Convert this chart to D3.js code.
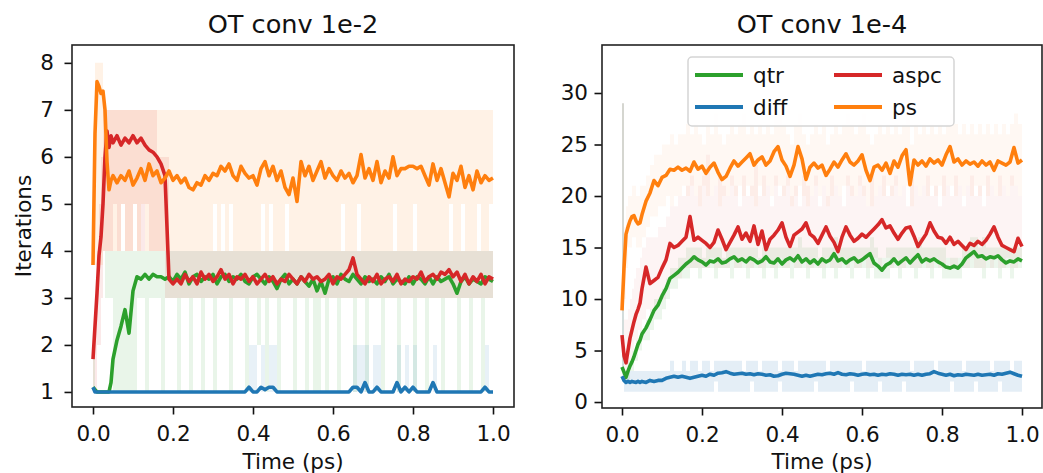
<!DOCTYPE html>
<html><head><meta charset="utf-8">
<script src="https://cdn.jsdelivr.net/npm/d3@7"></script>
<style>
body{margin:0;background:#fff}
svg{display:block}
text{font-family:"DejaVu Sans",sans-serif;fill:#111}
</style>
</head><body>
<svg id="c" width="1043" height="473"></svg>
<script>
// ---------- data ----------
const time = [0,0.005,0.01,0.015,0.02,0.025,0.03,0.035,0.04,0.045,0.05,
0.06,0.07,0.08,0.09,0.10,0.11,0.12,0.13,0.14,0.15,
0.16,0.17,0.18,0.19,0.20,0.21,0.22,0.23,0.24,0.25,
0.26,0.27,0.28,0.29,0.30,0.31,0.32,0.33,0.34,0.35,
0.36,0.37,0.38,0.39,0.40,0.41,0.42,0.43,0.44,0.45,
0.46,0.47,0.48,0.49,0.50,0.51,0.52,0.53,0.54,0.55,
0.56,0.57,0.58,0.59,0.60,0.61,0.62,0.63,0.64,0.65,
0.66,0.67,0.68,0.69,0.70,0.71,0.72,0.73,0.74,0.75,
0.76,0.77,0.78,0.79,0.80,0.81,0.82,0.83,0.84,0.85,
0.86,0.87,0.88,0.89,0.90,0.91,0.92,0.93,0.94,0.95,
0.96,0.97,0.98,0.99,1.00];

const seriesNames = ["qtr","diff","aspc","ps"];
const seriesColors = ["#2ca02c","#1f77b4","#d62728","#ff7f0e"];
const panelTitles = ["OT conv 1e-2","OT conv 1e-4"];
const xTickValues = [0,0.2,0.4,0.6,0.8,1.0];
const yTicksLeft = [1,2,3,4,5,6,7,8];
const yTicksRight = [0,5,10,15,20,25,30];
const xLabel = "Time (ps)";
const yLabel = "Iterations";

// ---- left panel (OT conv 1e-2) means ----
const qtrL = [1.1,1.05,1.0,1.0,1.0,1.0,1.0,1.0,1.0,1.2,1.7,
2.1,2.4,2.75,2.25,3.15,3.45,3.4,3.5,3.4,3.5,
3.45,3.45,3.4,3.45,3.35,3.5,3.4,3.55,3.3,3.45,
3.5,3.35,3.45,3.4,3.5,3.3,3.45,3.5,3.35,3.45,
3.4,3.5,3.35,3.3,3.45,3.5,3.4,3.3,3.45,3.35,
3.2,3.4,3.5,3.3,3.4,3.3,3.45,3.35,3.25,3.4,
3.15,3.35,3.1,3.4,3.45,3.3,3.5,3.4,3.35,3.5,
3.4,3.3,3.45,3.35,3.4,3.3,3.45,3.35,3.5,3.3,
3.4,3.35,3.3,3.45,3.3,3.45,3.4,3.3,3.45,3.3,
3.45,3.35,3.4,3.45,3.3,3.1,3.35,3.45,3.3,3.4,
3.35,3.3,3.45,3.4,3.35];
const diffL = [1.1,1.0,1.0,1.0,1.0,1.0,1.0,1.0,1.0,1.0,1.0,
1,1,1,1,1,1,1,1,1,1,
1,1,1,1,1,1,1,1,1,1,
1,1,1,1,1,1,1,1,1,1,
1,1,1,1.1,1,1,1.1,1.05,1.1,1.1,
1,1,1,1,1,1,1,1,1,1,
1,1,1,1,1,1,1,1,1,1.1,
1.1,1,1.2,1,1,1.1,1,1,1,1,
1.2,1,1.1,1,1.1,1,1,1,1,1.2,
1,1,1,1,1,1,1,1,1,1,
1,1,1.1,1,1];
const aspcL = [1.7,2.4,3.1,3.9,4.3,5.0,6.0,6.55,6.2,6.45,6.3,
6.45,6.25,6.4,6.3,6.45,6.3,6.4,6.25,6.15,6.1,
6.0,5.85,5.6,3.4,3.3,3.4,3.3,3.5,3.35,3.45,
3.3,3.55,3.4,3.5,3.35,3.45,3.6,3.4,3.5,3.3,
3.45,3.4,3.5,3.35,3.45,3.3,3.4,3.5,3.35,3.45,
3.3,3.4,3.35,3.5,3.4,3.3,3.45,3.35,3.5,3.4,
3.45,3.35,3.4,3.5,3.3,3.45,3.4,3.5,3.6,3.85,
3.5,3.4,3.3,3.45,3.35,3.5,3.3,3.4,3.45,3.35,
3.5,3.3,3.4,3.35,3.45,3.4,3.55,3.35,3.45,3.5,
3.4,3.55,3.5,3.6,3.45,3.55,3.35,3.5,3.3,3.45,
3.35,3.5,3.3,3.45,3.4];
const psL = [3.7,6.5,7.6,7.5,7.35,7.4,7.0,5.9,5.3,5.5,5.6,
5.45,5.6,5.5,5.7,5.4,5.55,5.75,5.5,5.85,5.6,
5.7,5.45,5.55,5.7,5.5,5.6,5.45,5.55,5.35,5.3,
5.45,5.4,5.6,5.5,5.65,5.6,5.8,5.7,5.85,5.6,
5.5,5.8,5.65,5.55,5.6,5.4,5.75,5.9,5.6,5.8,
5.5,5.7,5.35,5.2,5.55,5.05,5.9,5.6,5.8,5.5,
5.7,5.9,5.55,5.75,5.6,5.5,5.7,5.55,5.65,5.45,
5.6,6.05,5.55,5.75,5.5,5.9,5.45,5.7,5.55,6.0,
5.6,5.75,5.75,5.8,5.8,5.75,5.8,5.6,5.4,5.85,
5.5,5.75,5.45,5.15,5.65,5.5,5.8,5.35,5.6,5.3,
5.7,5.45,5.6,5.5,5.55];

// ---- left panel min / max bands ----
const qtrLlo = [1,1,1,1,1,1,3,3,3,3,1,
1,1,1,1,1,3,3,1,3,3,
3,1,3,3,3,1,3,3,1,3,
3,1,3,3,1,3,3,3,1,3,
3,3,1,3,3,2,3,1,3,3,
1,3,3,3,1,3,3,1,3,1,
1,3,1,3,3,1,3,3,3,1,
3,3,1,3,3,3,1,3,3,3,
1,3,3,3,1,3,3,1,3,3,
3,1,3,3,3,1,3,3,1,3,
3,1,3,3,3];
const qtrLhi = [2,1,1,1,1,1,4,4,4,4,4,
4,4,4,4,4,4,4,4,4,4,
4,4,4,4,4,4,4,4,4,4,
4,4,4,4,4,4,4,4,4,4,
4,4,4,4,4,4,4,4,4,4,
4,4,4,4,4,4,4,4,4,4,
4,4,4,4,4,4,4,4,4,4,
4,4,4,4,4,4,4,4,4,4,
4,4,4,4,4,4,4,4,4,4,
4,4,4,4,4,4,4,4,4,4,
4,4,4,4,4];
const diffLlo = [1,1,1,1,1,1,1,1,1,1,1,
1,1,1,1,1,1,1,1,1,1,
1,1,1,1,1,1,1,1,1,1,
1,1,1,1,1,1,1,1,1,1,
1,1,1,1,1,1,1,1,1,1,
1,1,1,1,1,1,1,1,1,1,
1,1,1,1,1,1,1,1,1,1,
1,1,1,1,1,1,1,1,1,1,
1,1,1,1,1,1,1,1,1,1,
1,1,1,1,1,1,1,1,1,1,
1,1,1,1,1];
const diffLhi = [1,1,1,1,1,1,1,1,1,1,1,
1,1,1,1,1,1,1,1,1,1,
1,1,1,1,1,1,1,1,1,1,
1,1,1,1,1,1,1,1,1,1,
1,1,1,2,2,1,2,1,2,2,
1,1,1,1,1,1,1,1,1,1,
1,1,1,1,1,1,1,1,1,2,
2,2,2,1,2,2,1,1,1,1,
2,1,2,1,2,1,1,1,1,2,
1,1,1,1,1,1,1,1,1,1,
1,1,2,1,1];
const aspcLlo = [1,1,2,2,3,4,4,4,4,4,5,
4,5,4,4,5,4,4,5,4,4,
4,4,3,3,3,3,3,3,3,3,
3,3,3,3,3,3,3,3,3,3,
3,3,3,3,3,3,3,3,3,3,
3,3,3,3,3,3,3,3,3,3,
3,3,3,3,3,3,3,3,3,3,
3,3,3,3,3,3,3,3,3,3,
3,3,3,3,3,3,3,3,3,3,
3,3,3,3,3,3,3,3,3,3,
3,3,3,3,3];
const aspcLhi = [2,3,4,5,6,7,7,7,7,7,7,
7,7,7,7,7,7,7,7,7,7,
6,6,6,4,4,4,4,4,4,4,
4,4,4,4,4,4,4,4,4,4,
4,4,4,4,4,4,4,4,4,4,
4,4,4,4,4,4,4,4,4,4,
4,4,4,4,4,4,4,4,4,4,
4,4,4,4,4,4,4,4,4,4,
4,4,4,4,4,4,4,4,4,4,
4,4,4,4,4,4,4,4,4,4,
4,4,4,4,4];
const psLlo = [3.7,3.7,3.7,3.7,3.7,4,4,4,4,4,4,
4,5,4,4,5,4,5,4,4,4,
4,4,4,4,4,4,4,4,4,4,
4,4,4,4,5,4,5,4,5,4,
4,4,4,4,4,4,5,4,5,4,
4,4,5,4,4,4,4,4,4,4,
4,4,4,4,4,4,5,4,4,4,
5,4,4,4,4,4,4,4,4,5,
4,4,4,4,5,4,4,4,4,4,
4,4,4,5,4,4,5,4,4,4,
5,4,4,5,4];
const psLhi = [4,8,8,8,8,7,7,7,7,7,7,
7,7,7,7,7,7,7,7,7,7,
7,7,7,7,7,7,7,7,7,7,
7,7,7,7,7,7,7,7,7,7,
7,7,7,7,7,7,7,7,7,7,
7,7,7,7,7,7,7,7,7,7,
7,7,7,7,7,7,7,7,7,7,
7,7,7,7,7,7,7,7,7,7,
7,7,7,7,7,7,7,7,7,7,
7,7,7,7,7,7,7,7,7,7,
7,7,7,7,7];

// ---- right panel (OT conv 1e-4) means ----
const qtrR = [3.4,2.9,2.4,3.0,3.5,3.9,4.4,5.0,5.6,6.0,6.6,
7.2,8.0,8.9,9.4,10.3,11.0,12.0,12.3,12.6,13.0,
13.4,13.7,14.1,13.8,13.6,13.3,13.7,13.6,13.9,13.5,
13.6,13.9,14.1,13.7,13.9,13.6,14.0,13.8,13.5,13.7,
14.1,13.6,13.5,13.9,13.4,13.8,14.0,13.7,14.2,13.6,
13.9,13.5,13.8,13.4,13.9,13.6,13.8,14.4,13.7,13.9,
13.5,13.8,14.0,13.6,13.8,14.1,14.4,13.5,13.2,12.8,
13.3,13.5,13.9,13.4,13.7,14.0,13.5,13.9,14.3,13.6,
13.9,13.7,13.9,13.6,13.4,13.1,13.0,13.2,13.0,13.4,
14.0,14.3,14.6,14.1,14.2,13.9,14.1,14.0,14.2,13.8,
13.5,13.7,13.6,13.9,13.7];
const diffR = [2.5,2.1,1.9,2.0,1.9,2.0,1.95,1.9,2.0,1.9,2.0,
1.9,2.1,2.0,2.1,2.1,2.3,2.4,2.5,2.4,2.5,
2.4,2.3,2.4,2.5,2.6,2.5,2.7,2.6,2.8,2.85,
2.95,2.8,2.7,2.75,2.8,2.7,2.75,2.65,2.75,2.7,
2.6,2.65,2.5,2.55,2.7,2.8,2.75,2.7,2.6,2.5,
2.6,2.5,2.6,2.7,2.65,2.75,2.8,2.7,2.85,2.7,
2.65,2.75,2.7,2.6,2.7,2.75,2.65,2.7,2.6,2.7,
2.65,2.75,2.7,2.6,2.7,2.65,2.7,2.6,2.7,2.6,
2.7,2.75,2.95,2.8,2.7,2.6,2.7,2.55,2.65,2.6,
2.7,2.65,2.6,2.7,2.6,2.65,2.7,2.6,2.75,2.7,
2.8,2.9,2.75,2.6,2.5];
const aspcR = [6.5,4.5,3.8,5.0,6.2,7.0,7.8,8.5,9.0,9.6,11.0,
13.1,11.5,11.8,12.1,13.0,13.8,15.4,15.0,15.2,15.6,
16.0,18.0,15.7,16.0,15.7,15.4,15.0,15.5,16.7,15.8,
14.8,15.5,16.2,17.0,15.8,16.4,15.6,17.1,15.3,16.6,
14.8,15.8,16.2,16.7,17.4,16.0,15.1,16.2,16.5,16.8,
17.4,16.3,16.0,15.4,16.2,17.0,16.1,15.5,14.6,16.0,
17.0,16.2,15.6,15.9,16.3,16.0,16.4,16.8,17.2,17.7,
16.9,17.1,16.4,15.8,16.4,16.9,17.0,16.1,15.1,15.7,
16.3,17.4,16.6,16.0,15.9,15.4,16.0,15.3,15.6,15.2,
14.8,15.4,15.2,15.6,15.3,15.7,16.3,17.0,16.0,15.2,
15.0,14.8,14.6,15.9,15.1];
const psR = [8.9,13,16.3,17.0,17.6,18.0,18.1,17.6,17.3,17.4,18.2,
19.5,20.3,21.5,21.0,21.8,22.0,22.6,22.5,22.8,22.5,
22.7,22.4,23.3,22.6,22.9,22.2,22.8,23.2,22.3,21.6,
21.9,22.7,23.4,22.9,23.3,23.7,24.1,23.0,23.5,23.8,
23.0,23.4,24.3,24.8,23.5,22.9,21.9,23.0,24.8,23.6,
21.6,22.8,23.2,22.7,23.0,22.0,22.6,23.3,22.8,23.5,
24.1,23.3,23.0,23.4,24.0,22.5,21.5,22.8,23.0,22.5,
23.2,22.2,23.4,22.8,23.9,24.5,21.1,23.5,23.0,23.4,
22.9,23.6,23.2,23.5,23.0,24.0,24.8,23.3,23.6,23.0,
23.4,23.1,23.3,22.9,23.4,23.0,23.3,22.5,23.4,23.2,
23.0,23.3,24.7,23.2,23.5];

// ---- right panel min / max bands ----
const qtrRlo = [3,2,2,2,3,3,4,4,5,5,6,
6,7,8,8,9,10,11,11,12,12,
12,13,13,12,13,13,13,12,13,13,
13,12,13,13,13,12,13,13,13,12,
13,13,12,13,13,13,12,13,13,13,
12,13,13,13,12,13,13,12,13,13,
13,12,13,13,13,12,13,12,12,12,
12,13,13,12,13,13,13,12,13,13,
13,12,13,13,12,12,12,12,12,13,
13,13,13,13,12,13,13,13,12,13,
13,12,13,13,13];
const qtrRhi = [29,3,3,4,4,5,5,6,6,7,7,
8,9,10,10,11,12,13,13,14,14,
15,15,15,15,14,15,15,15,15,14,
15,15,15,15,15,15,15,15,14,15,
15,15,15,15,15,15,15,15,16,15,
15,15,15,14,15,15,15,16,15,15,
15,15,15,15,15,15,16,15,14,14,
15,15,15,15,15,15,15,15,16,15,
15,15,15,15,15,14,14,14,14,15,
15,16,16,15,16,15,15,15,15,15,
15,15,15,15,15];
const diffRlo = [2,1,1,1,1,1,1,1,1,1,1,
1,1,1,1,1,1,1,1,1,1,
1,1,1,1,1,1,1,2,1,1,
1,1,1,1,1,1,2,1,1,1,
1,1,1,2,1,1,1,1,1,1,
1,1,2,1,1,1,1,1,1,1,
1,2,1,1,1,1,1,1,2,1,
1,1,1,1,2,1,1,1,1,1,
1,1,1,1,1,1,2,1,1,1,
1,1,2,1,1,1,1,1,2,1,
1,1,1,1,1];
const diffRhi = [29,3,3,3,3,3,3,3,3,3,3,
3,3,3,3,3,3,4,3,3,4,
3,4,4,3,4,4,3,4,4,4,
4,4,4,4,3,4,4,4,3,4,
4,4,4,3,4,4,4,3,4,4,
4,4,4,4,4,3,4,4,4,4,
4,4,4,4,3,4,4,4,4,4,
4,4,4,4,4,4,3,4,4,4,
4,4,3,4,4,4,4,4,4,3,
4,4,4,4,4,4,3,4,4,4,
4,3,4,4,4];
const aspcRlo = [3,3,3,3,4,5,6,6,7,7,8,
9,9,9,10,10,11,12,12,12,13,
13,13,13,13,13,13,14,13,13,13,
13,14,13,13,14,13,13,14,13,13,
14,13,13,14,13,13,14,13,13,14,
13,13,14,13,13,14,13,13,13,14,
13,14,13,13,14,13,13,14,13,14,
14,13,14,13,13,14,13,13,13,14,
13,13,14,13,13,14,13,13,14,13,
13,14,13,13,13,14,13,14,13,13,
14,13,13,14,13];
const aspcRhi = [29,8,8,9,10,11,12,13,13,14,15,
16,16,16,17,17,18,19,19,20,20,
21,22,20,21,22,24,20,21,22,21,
20,22,21,19,22,20,21,23,20,22,
21,19,22,20,21,22,20,21,19,22,
21,20,22,19,21,20,22,21,20,19,
22,21,20,22,21,19,22,20,21,22,
20,21,22,20,21,19,22,21,20,21,
22,20,21,19,22,21,20,22,21,19,
21,22,20,21,19,22,21,20,22,21,
20,22,21,20,22];
const psRlo = [9,10,13,15,15,16,16,15,15,15,16,
17,18,18,19,19,20,19,20,20,21,
20,21,20,19,21,20,20,21,19,20,
20,21,20,21,20,21,20,19,21,20,
21,20,21,21,20,21,19,20,21,20,
19,20,21,20,21,19,20,21,20,21,
21,20,20,21,20,19,19,20,21,20,
21,20,21,20,21,21,19,21,20,21,
20,21,20,21,20,21,21,20,21,20,
21,20,21,20,21,20,21,20,20,21,
20,21,21,20,21];
const psRhi = [29,17,19,20,20,21,21,20,20,21,21,
22,23,24,24,25,25,26,25,26,26,
27,26,27,26,25,27,26,28,26,25,
26,27,26,27,28,26,27,26,27,26,
27,26,28,28,27,26,25,27,28,26,
25,26,27,26,27,25,26,27,26,27,
28,27,26,27,28,26,25,26,27,26,
27,26,27,26,27,28,25,27,26,27,
26,27,26,27,26,27,28,27,26,27,
26,27,26,27,26,27,26,27,26,27,
26,27,28,27,27];

// band opacity per panel, series order qtr, diff, aspc, ps
const bandOpacityLeft = [0.1, 0.1, 0.1, 0.1];
const bandOpacityRight = [0.09, 0.12, 0.05, 0.05];

// ---------- checks ----------
const allArrays = {qtrL,diffL,aspcL,psL,qtrLlo,qtrLhi,diffLlo,diffLhi,aspcLlo,aspcLhi,psLlo,psLhi,
  qtrR,diffR,aspcR,psR,qtrRlo,qtrRhi,diffRlo,diffRhi,aspcRlo,aspcRhi,psRlo,psRhi};
for (const [k,v] of Object.entries(allArrays)) {
  if (v.length !== time.length) throw new Error("length mismatch " + k + " " + v.length + " vs " + time.length);
}

// ---------- panels ----------
const panels = [
  {title: panelTitles[0], x0:72, x1:514, y0:45, y1:407, xDom:[-0.0525,1.0525], yDom:[0.68,8.38],
   yTicks:yTicksLeft, pad:10.5, ylabel:true, legend:false, op:bandOpacityLeft,
   mean:[qtrL,diffL,aspcL,psL], lo:[qtrLlo,diffLlo,aspcLlo,psLlo], hi:[qtrLhi,diffLhi,aspcLhi,psLhi]},
  {title: panelTitles[1], x0:602, x1:1042, y0:45, y1:408, xDom:[-0.05,1.05], yDom:[-0.58,34.66],
   yTicks:yTicksRight, pad:6.5, ylabel:false, legend:true, op:bandOpacityRight,
   mean:[qtrR,diffR,aspcR,psR], lo:[qtrRlo,diffRlo,aspcRlo,psRlo], hi:[qtrRhi,diffRhi,aspcRhi,psRhi]}
];

const svg = d3.select("#c");
const FS = 21.5;

panels.forEach((p, pi) => {
  const x = d3.scaleLinear().domain(p.xDom).range([p.x0, p.x1]);
  const y = d3.scaleLinear().domain(p.yDom).range([p.y1, p.y0]);
  const clipId = "clip" + pi;
  svg.append("clipPath").attr("id", clipId).append("rect")
    .attr("x", p.x0).attr("y", p.y0).attr("width", p.x1 - p.x0).attr("height", p.y1 - p.y0);
  const g = svg.append("g").attr("clip-path", `url(#${clipId})`);

  // bands
  seriesNames.forEach((s, si) => {
    const area = d3.area()
      .x((d, i) => x(time[i]))
      .y0((d, i) => y(p.lo[si][i]))
      .y1((d, i) => y(p.hi[si][i]))
      .curve(d3.curveStepAfter);
    g.append("path").datum(time).attr("d", area)
      .attr("fill", seriesColors[si]).attr("fill-opacity", p.op[si]).attr("stroke", "none");
  });
  // mean lines
  seriesNames.forEach((s, si) => {
    const line = d3.line().x((d, i) => x(time[i])).y((d) => y(d));
    g.append("path").datum(p.mean[si]).attr("d", line)
      .attr("fill", "none").attr("stroke", seriesColors[si]).attr("stroke-width", 3.6)
      .attr("stroke-linejoin", "round").attr("stroke-linecap", "butt");
  });

  // axes
  const ax = svg.append("g").attr("transform", `translate(0,${p.y1})`)
    .call(d3.axisBottom(x).tickValues(xTickValues).tickFormat(d3.format(".1f"))
      .tickSize(7.5).tickPadding(11).tickSizeOuter(0));
  const ay = svg.append("g").attr("transform", `translate(${p.x0},0)`)
    .call(d3.axisLeft(y).tickValues(p.yTicks).tickFormat(d3.format("d"))
      .tickSize(7.5).tickPadding(p.pad).tickSizeOuter(0));
  [ax, ay].forEach(a => {
    a.select(".domain").remove();
    a.attr("font-family", null).attr("font-size", null);
    a.selectAll("line").attr("stroke", "#111").attr("stroke-width", 1.6);
    a.selectAll("text").style("font-size", FS + "px").attr("fill", "#111");
  });

  // frame
  svg.append("rect").attr("x", p.x0).attr("y", p.y0)
    .attr("width", p.x1 - p.x0).attr("height", p.y1 - p.y0)
    .attr("fill", "none").attr("stroke", "#222").attr("stroke-width", 1.6);

  // title
  svg.append("text").attr("x", (p.x0 + p.x1) / 2).attr("y", 33)
    .attr("text-anchor", "middle").style("font-size", "25.6px").text(p.title);
  // x label
  svg.append("text").attr("x", (p.x0 + p.x1) / 2).attr("y", 469)
    .attr("text-anchor", "middle").style("font-size", FS + "px").text(xLabel);
  if (p.ylabel) {
    svg.append("text").attr("transform", `translate(30.5,${(p.y0 + p.y1) / 2}) rotate(-90)`)
      .attr("text-anchor", "middle").style("font-size", FS + "px").text(yLabel);
  }

  if (p.legend) {
    const lg = svg.append("g");
    lg.append("rect").attr("x", 688).attr("y", 57).attr("width", 266).attr("height", 69)
      .attr("rx", 4).attr("fill", "#fff").attr("fill-opacity", 0.85)
      .attr("stroke", "#d5d5d5").attr("stroke-width", 1.5);
    const cols = [695, 834];
    const rows = [75, 107];
    seriesNames.forEach((s, si) => {
      const cx = cols[Math.floor(si / 2)];
      const cy = rows[si % 2];
      lg.append("line").attr("x1", cx).attr("x2", cx + 48).attr("y1", cy).attr("y2", cy)
        .attr("stroke", seriesColors[si]).attr("stroke-width", 3.8);
      lg.append("text").attr("x", cx + 58).attr("y", cy + 7.5)
        .style("font-size", FS + "px").text(s);
    });
  }
});
</script>
</body></html>
